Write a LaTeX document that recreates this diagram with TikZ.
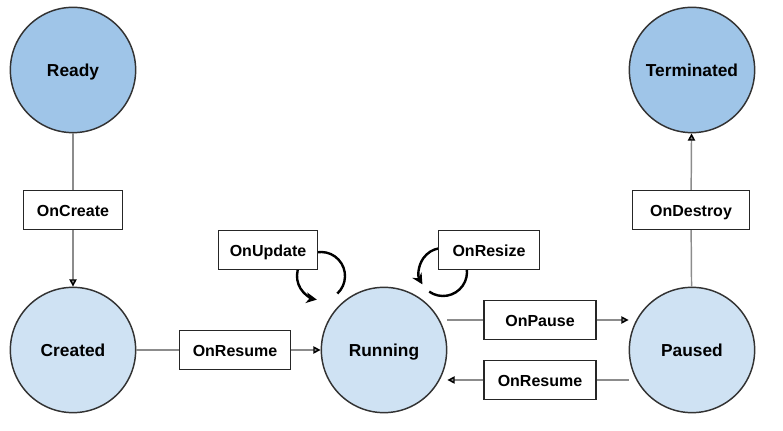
\documentclass[tikz,border=0pt]{standalone}
\usepackage{fontspec}
\setmainfont{Liberation Sans}
\usetikzlibrary{arrows.meta}
\definecolor{darkstate}{HTML}{9FC5E8}
\definecolor{lightstate}{HTML}{CFE2F3}
\definecolor{edgegray}{HTML}{8C8C8C}
\definecolor{rimgray}{HTML}{333333}
\tikzset{
  state/.style={shape=circle, draw=rimgray, line width=1.1pt, minimum size=94pt, inner sep=0pt, text height=0.95em, text depth=0pt, font=\fontsize{13}{15}\selectfont\bfseries},
  event/.style={shape=rectangle, draw=black!85, line width=1.1pt, fill=white, minimum height=29pt, inner sep=0pt, text height=0.95em, text depth=0pt, font=\fontsize{12}{14}\selectfont\bfseries},
  link/.style={edgegray, line width=1.1pt},
  tip/.style={-{Triangle[color=black, length=5.5pt, width=5.5pt]}},
  loop/.style={black, line width=1.8pt, -{Stealth[length=8pt, width=8pt]}}
}
\begin{document}
\begin{tikzpicture}[x=0.75pt, y=0.75pt]
\useasboundingbox (0,0) rectangle (783,431);
\node[state, fill=darkstate] (R) at (73,361) {Ready};
\node[state, fill=darkstate] (T) at (692,361) {Terminated};
\node[state, fill=lightstate] (C) at (73,81) {Created};
\node[state, fill=lightstate] (Run) at (384,81) {Running};
\node[state, fill=lightstate] (P) at (692,81) {Paused};
% self loops on Running, boxes drawn on top
\coordinate (LU) at (321,155);
\coordinate (LR) at (443,159);
\draw[loop] (LU) ++(-47:18pt) arc[start angle=-47, end angle=260, radius=18pt];
\draw[loop] (LR) ++(-125:18pt) arc[start angle=-125, end angle=211, radius=18pt];
\node[event, minimum width=74pt] (E1) at (73,221) {OnCreate};
\node[event, minimum width=88pt] (E2) at (691,221) {OnDestroy};
\node[event, minimum width=83pt] (E3) at (235,81) {OnResume};
\node[event, minimum width=74pt] (E4) at (268,181) {OnUpdate};
\node[event, minimum width=76pt] (E5) at (489,181) {OnResize};
\node[event, minimum width=84pt] (E6) at (540,111) {OnPause};
\node[event, minimum width=84pt] (E7) at (540,51) {OnResume};
\path [link] (R) edge (E1);
\path [link, tip] (E1) edge (C);
\path [link] (P) edge (E2);
\path [link, tip] (E2) edge (T);
\path [link] (C) edge (E3);
\path [link, tip] (E3) edge (Run);
\path [link] (Run.east |- E6.west) edge (E6.west);
\path [link, tip] (E6.east) edge (P.west |- E6.east);
\path [link] (P.west |- E7.east) edge (E7.east);
\path [link, tip] (E7.west) edge (Run.east |- E7.west);
\end{tikzpicture}
\end{document}
